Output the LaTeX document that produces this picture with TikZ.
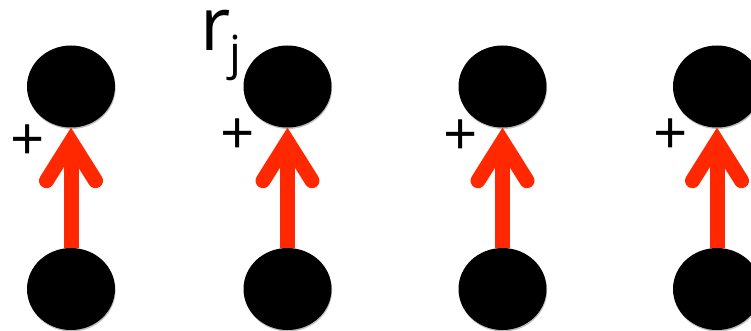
\documentclass[tikz,border=0pt]{standalone}
\usepackage{fontspec}
\setmainfont{Open Sans}
\usetikzlibrary{shapes.geometric,calc,shadows}
\definecolor{arrowred}{RGB}{255,40,0}
\tikzset{
  ball/.style={ellipse, fill=black, minimum width=88pt, minimum height=82pt, inner sep=0pt,
    drop shadow={shadow xshift=0.6pt, shadow yshift=-1.5pt, opacity=0.25, fill=black}},
  shaft/.style={draw=arrowred, line width=15pt, line cap=butt},
  barb/.style={draw=arrowred, line width=15pt, line cap=round, line join=miter},
  plussign/.style={inner sep=0pt, font=\fontsize{60}{60}\selectfont},
}
\begin{document}
\begin{tikzpicture}[x=1pt,y=-1pt]
\useasboundingbox (0,0) rectangle (751,331);
\foreach \i/\x/\py/\px in {1/71/143/28, 2/287.5/137/238, 3/502.5/138/461, 4/717/137/671}{
  \node[ball] (b\i) at (\x,289) {};
  \draw[shaft] (b\i.north) -- ($(\x,127)+(0,14)$);
  \node[ball] (t\i) at (\x,86.5) {};
  \draw[barb] ($(t\i.south)+(-24.5,53)$) coordinate (l\i) -- ($(t\i.south)+(0,14)$) coordinate (v\i) -- ($(t\i.south)+(24.5,53)$) coordinate (r\i);
  \node[plussign] (p\i) at (\px,\py) {+};
}
\node[anchor=base west, inner sep=0pt] (rj) at (200,51) {\fontsize{74}{74}\selectfont r\kern-1pt\raisebox{-19pt}{\fontsize{47}{47}\selectfont j}};
\end{tikzpicture}
\end{document}
